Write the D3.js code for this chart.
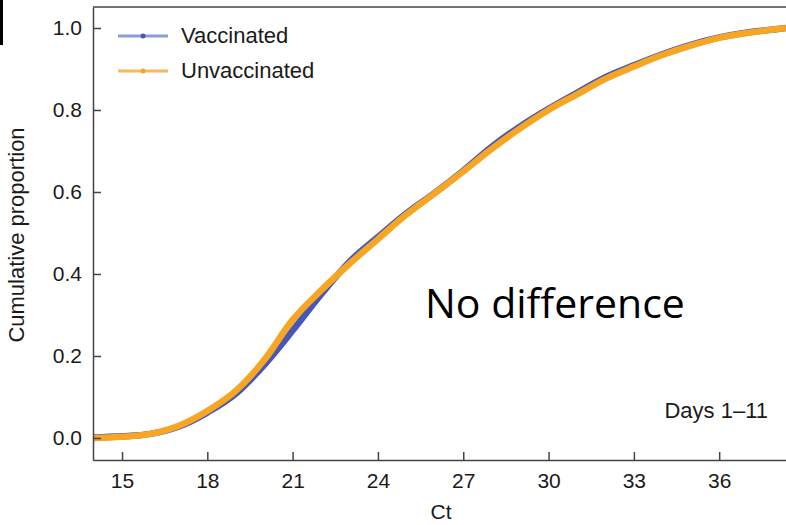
<!DOCTYPE html>
<html>
<head>
<meta charset="utf-8">
<script src="https://cdn.jsdelivr.net/npm/d3@7"></script>
<style>
  body { margin: 0; background: #fff; }
  svg { display: block; }
  text { font-family: "Liberation Sans", Arial, sans-serif; fill: #1a1a1a; }
</style>
</head>
<body>
<svg id="chart" width="786" height="525"></svg>
<script>
// values
const ct = [14, 15, 16, 17, 18, 19, 20, 21, 22, 23, 24, 25, 26, 27, 28, 29, 30, 31, 32, 33, 34, 35, 36, 37, 38, 38.35]
const unvaccinated = [0.0, 0.003, 0.01, 0.03, 0.066, 0.115, 0.19, 0.288, 0.36, 0.425, 0.485, 0.545, 0.597, 0.65, 0.705, 0.755, 0.80, 0.838, 0.876, 0.906, 0.934, 0.957, 0.976, 0.988, 0.997, 1.0]
const vaccinated = [0.001, 0.004, 0.01, 0.028, 0.062, 0.108, 0.178, 0.262, 0.35, 0.43, 0.49, 0.548, 0.598, 0.652, 0.71, 0.76, 0.803, 0.842, 0.88, 0.909, 0.936, 0.959, 0.977, 0.989, 0.997, 1.0]
const xTicks = [15, 18, 21, 24, 27, 30, 33, 36]
const yTicks = [0, 0.2, 0.4, 0.6, 0.8, 1.0]
const series = [
  {name: "Vaccinated", values: vaccinated, color: "#4657b8", light: "#8e9ad8"},
  {name: "Unvaccinated", values: unvaccinated, color: "#f6a623", light: "#f9b95a"}
]

const svg = d3.select("#chart")
const pl = 93, pr = 786, pt = 7, pb = 460

const x = d3.scaleLinear().domain([13.98, 38.35]).range([pl, pr])
const y = d3.scaleLinear().domain([-0.0537, 1.0512]).range([pb, pt])

// black sliver at top-left
svg.append("rect").attr("x", 0).attr("y", 0).attr("width", 3).attr("height", 45).attr("fill", "#000")

svg.append("clipPath").attr("id", "plot")
  .append("rect").attr("x", pl).attr("y", pt).attr("width", pr - pl).attr("height", pb - pt)

// frame top
svg.append("line").attr("x1", pl).attr("x2", pr).attr("y1", pt).attr("y2", pt)
  .attr("stroke", "#444").attr("stroke-width", 1.5)

const line = d3.line().x(d => x(d[0])).y(d => y(d[1])).curve(d3.curveMonotoneX)

svg.append("g").attr("clip-path", "url(#plot)")
  .selectAll("path")
  .data(series)
  .join("path")
  .attr("d", s => line(ct.map((c, i) => [c, s.values[i]])))
  .attr("fill", "none")
  .attr("stroke", s => s.color)
  .attr("stroke-width", 6.5)
  .attr("stroke-linejoin", "round")

const xAxis = svg.append("g").attr("transform", `translate(0,${pb})`)
  .call(d3.axisBottom(x).tickValues(xTicks).tickSize(-8).tickPadding(13).tickSizeOuter(0))
const yAxis = svg.append("g").attr("transform", `translate(${pl},0)`)
  .call(d3.axisLeft(y).tickValues(yTicks).tickFormat(d3.format(".1f")).tickSize(-8).tickPadding(11).tickSizeOuter(0))

for (const ax of [xAxis, yAxis]) {
  ax.select(".domain").attr("stroke", "#444").attr("stroke-width", 1.5)
  ax.selectAll(".tick line").attr("stroke", "#444").attr("stroke-width", 1.5)
  ax.selectAll(".tick text").attr("font-size", 21).attr("font-family", "Liberation Sans, Arial, sans-serif").attr("fill", "#1a1a1a")
}

// legend
const leg = svg.append("g").selectAll("g").data(series).join("g")
  .attr("transform", (s, i) => `translate(118,${36 + i * 35})`)
leg.append("line").attr("x1", 0).attr("x2", 50).attr("stroke", s => s.light).attr("stroke-width", 3)
leg.append("circle").attr("cx", 25).attr("r", 2.5).attr("fill", s => s.color)
leg.append("text").attr("x", 63).attr("y", 7).attr("font-size", 22).text(s => s.name)

svg.append("text").attr("x", 441).attr("y", 519).attr("text-anchor", "middle").attr("font-size", 21).text("Ct")
svg.append("text").attr("transform", "translate(24,235) rotate(-90)").attr("text-anchor", "middle")
  .attr("font-size", 22).text("Cumulative proportion")
svg.append("text").attr("x", 768).attr("y", 418).attr("text-anchor", "end").attr("font-size", 22).text("Days 1–11")
svg.append("text").attr("x", 425).attr("y", 318).attr("font-size", 41)
  .style("font-family", "'Open Sans', sans-serif").style("fill", "#000").text("No difference")
</script>
</body>
</html>
